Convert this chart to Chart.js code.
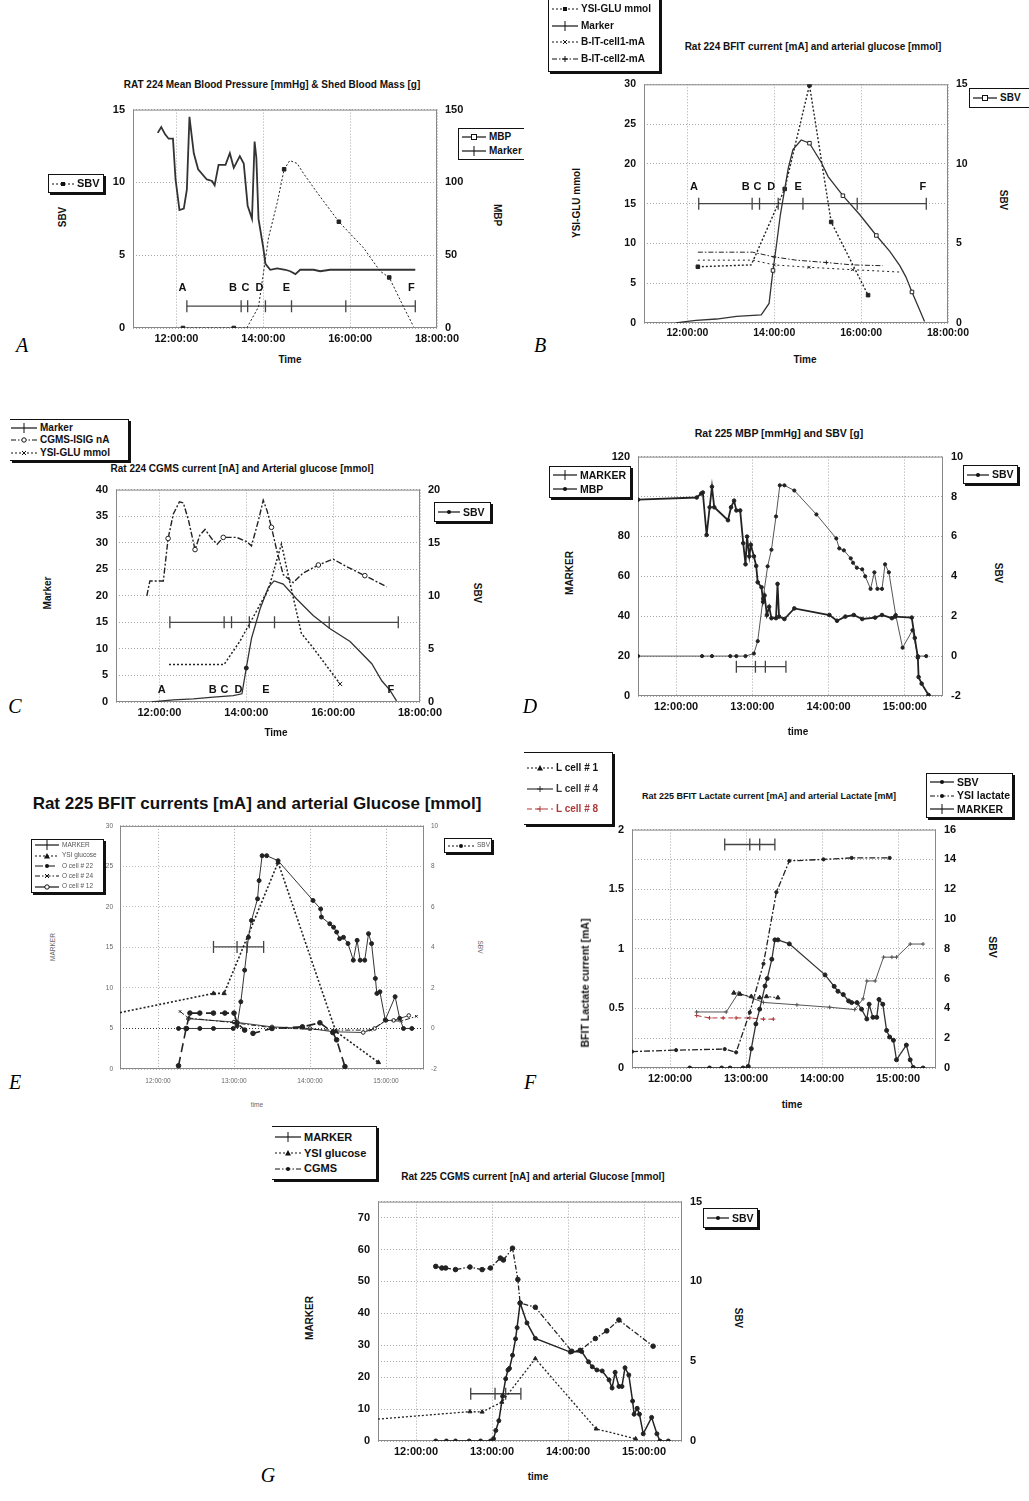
<!DOCTYPE html>
<html>
<head>
<meta charset="utf-8">
<script src="https://cdn.jsdelivr.net/npm/chart.js@4.4.1/dist/chart.umd.min.js"></script>
<style>
body { margin:0; width:1029px; height:1501px; background:#fff; position:relative; overflow:hidden; font-family:"Liberation Sans", Arial, sans-serif; }
.t { position:absolute; white-space:nowrap; color:#111; font-weight:bold; font-size:10px; line-height:1; }
.lg { position:absolute; background:#fff; border:1px solid #111; box-shadow:2px 2px 0 #111; overflow:hidden; display:flex; flex-direction:column; justify-content:space-evenly; padding-left:2px; box-sizing:border-box; font-weight:bold; color:#111; }
.lg div { display:flex; align-items:center; white-space:nowrap; line-height:1; }
.lg svg { margin-right:2px; flex:none; }
canvas { position:absolute; }
</style>
</head>
<body>
<script>
const FONT = '"Liberation Sans", Arial, sans-serif';

// ---------- A : Rat 224 MBP & shed blood ----------
let aMbpTime = [11.57,11.65,11.74,11.82,11.92,11.98,12.07,12.17,12.24,12.30,12.40,12.50,12.70,12.82,12.88,12.97,13.13,13.23,13.32,13.46,13.55,13.64,13.74,13.80,13.84,13.89,14.00,14.05,14.16,14.32,14.51,14.62,14.74,14.85,15.16,15.31,15.54,16.31,17.50];
let aMbp = [134,138,133,130,130,102,81,82,95,145,120,109,102,101,98,112,112,120,110,118,113,84,75,128,117,75,55,44,40,41,40,39,37,40,40,39,40,40,40];
let aSbvTime = [12.15,13.32,13.62,13.89,14.0,14.12,14.32,14.48,14.61,14.78,14.93,15.24,15.74,16.31,16.69,16.90,17.23,17.46];
let aSbv = [0,0,0,1.45,3.7,6.2,8.6,10.9,11.5,11.3,10.6,9.3,7.3,5.5,3.9,3.47,1.45,0.1];
let aMarkTime = [12.24,13.49,13.64,14.05,14.65,15.9,17.5];
let aLetters = ['A','B','C','D','E','F'];
let aLetterTime = [12.14,13.3,13.59,13.91,14.53,17.41];

// ---------- B : Rat 224 BFIT current ----------
let bSbvTime = [11.74,12.0,12.2,12.67,13.13,13.7,13.88,13.97,14.05,14.14,14.32,14.43,14.62,14.81,15.08,15.24,15.58,15.97,16.35,16.66,16.89,17.03,17.17,17.35,17.46];
let bSbv = [0,0.1,0.16,0.25,0.41,0.51,1.23,3.3,4.9,6.8,9.7,10.9,11.5,11.3,10.1,9.2,8.0,6.8,5.5,4.5,3.6,2.9,1.95,0.8,0.1];
let bYsiTime = [12.24,13.47,14.24,14.81,15.31,16.16];
let bYsi = [7.07,7.3,16.85,29.9,12.7,3.5];
let bCell1Time = [12.24,13.5,14.0,14.8,15.8,16.9];
let bCell1 = [7.9,7.9,7.3,7.0,6.7,6.4];
let bCell2Time = [12.24,13.5,14.0,14.5,15.2,15.8,16.5];
let bCell2 = [8.9,8.9,8.3,7.9,7.6,7.3,7.2];
let bMarkTime = [12.26,13.49,13.66,14.09,14.66,15.91,17.5];
let bLetterTime = [12.15,13.34,13.61,13.93,14.55,17.42];

// ---------- C : Rat 224 CGMS current ----------
let cCgmsTime = [11.71,11.78,12.09,12.2,12.32,12.46,12.55,12.67,12.82,12.93,13.05,13.2,13.33,13.47,13.78,14.01,14.12,14.28,14.39,14.48,14.58,14.7,14.85,15.08,15.31,15.66,16.0,16.31,16.73,17.23];
let cCgms = [20,22.8,22.8,30.8,35.4,37.7,37.5,34.2,28.7,31.4,32.5,30.8,29.7,31,31,30.2,29.4,34.2,38,36,32.9,28.6,24,22.5,24.3,25.8,26.9,25.5,23.8,21.7];
let cYsiTime = [12.22,13.49,13.85,14.16,14.51,14.81,14.97,15.27,15.54,15.85,16.16];
let cYsi = [7.08,7.08,11.4,16,21.2,29.8,23.7,12.9,10.2,6.8,3.4];
let cSbvTime = [11.82,12.32,12.78,13.24,13.7,13.9,14.0,14.12,14.32,14.51,14.64,14.85,15.16,15.54,15.93,16.39,16.89,17.12,17.31,17.46];
let cSbv = [0,0.2,0.3,0.46,0.6,0.77,3.2,6.0,8.8,10.8,11.4,11.1,9.7,8.15,6.9,5.7,3.6,2.0,1.1,0.1];
let cMarkTime = [12.24,13.49,13.66,14.07,14.65,15.91,17.5];
let cLetterTime = [12.05,13.23,13.5,13.82,14.45,17.33];

// ---------- D : Rat 225 MBP and SBV ----------
let dMbpTime = [11.5,12.27,12.33,12.35,12.4,12.44,12.47,12.5,12.68,12.72,12.76,12.79,12.84,12.88,12.91,12.93,12.96,12.98,13.02,13.05,13.07,13.12,13.14,13.16,13.19,13.22,13.25,13.31,13.33,13.35,13.42,13.55,14.01,14.11,14.22,14.33,14.44,14.61,14.7,14.83,14.87,15.09,15.13,15.17,15.18,15.22,15.31];
let dMbp = [98.4,99.5,101.5,102,80.7,94.6,104.9,94.6,88.1,94.6,97.9,93,93,76.6,66,79.9,70,75.8,70,65.2,57,54.5,47.2,50.4,40.6,44.7,39,39,56.2,39.8,38.6,43.9,40.6,37.7,39.8,40.6,38.6,39.3,40.6,39,39.8,39.3,29.1,19.3,9.5,6.2,0.5];
let dSbvTime = [11.5,12.34,12.47,12.71,12.79,12.91,13.02,13.07,13.14,13.2,13.25,13.31,13.36,13.42,13.55,13.84,14.1,14.14,14.2,14.29,14.32,14.37,14.44,14.48,14.55,14.6,14.64,14.7,14.74,14.79,14.88,14.97,15.1,15.17,15.28];
let dSbv = [0,0,0,0,0,0,0.13,0.75,2.88,4.5,5.33,7.0,8.56,8.56,8.3,7.1,5.9,5.4,5.3,4.9,4.68,4.43,4.35,4.0,3.37,4.2,3.37,3.37,4.6,4.2,2.06,0.42,1.3,0,0];
let dMarkTime = [12.79,13.04,13.17,13.44];

// ---------- E : Rat 225 BFIT glucose currents ----------
let eSbvTime = [12.27,12.38,12.55,12.73,12.99,13.04,13.09,13.14,13.19,13.23,13.31,13.33,13.37,13.43,13.58,14.04,14.14,14.15,14.26,14.31,14.35,14.39,14.44,14.5,14.57,14.62,14.66,14.72,14.77,14.81,14.86,14.88,14.92,14.99,15.12,15.18,15.23,15.34];
let eSbv = [0,0,0,0,0,0.13,1.32,2.88,4.5,5.33,6.4,7.3,8.53,8.53,8.28,6.32,5.9,5.5,5.17,5.0,4.76,4.43,4.5,4.19,3.37,4.35,3.37,3.37,4.68,4.19,2.47,1.73,1.81,0.42,1.57,0.5,0,0];
let eYsiTime = [11.5,12.73,12.87,13.58,14.34,14.9];
let eYsi = [6.96,9.33,9.33,25.5,4.63,0.82];
let eCell22Time = [12.27,12.37,12.42,12.55,12.73,12.88,13.0,13.04,13.14,13.25,13.5,13.9,14.13,14.3,14.35,14.46];
let eCell22 = [0.4,5.0,6.9,6.9,6.9,6.9,6.9,5.7,4.8,4.4,5.0,5.2,5.7,4.5,3.6,0.3];
let eCell24Time = [12.29,12.4,13.0,13.5,14.0,14.3,14.8,15.0,15.2,15.4];
let eCell24 = [7.1,6.3,5.7,5.1,4.9,4.8,4.8,6.0,5.9,6.5];
let eCell12Time = [12.4,13.0,13.5,14.0,14.3,14.7,14.85,15.0,15.1,15.3];
let eCell12 = [6.2,5.8,5.2,5.0,4.6,4.5,5.0,6.0,6.0,6.6];
let eMarkTime = [12.73,13.04,13.17,13.39];

// ---------- F : Rat 225 BFIT lactate ----------
let fSbvTime = [12.26,12.52,12.68,12.79,12.96,13.03,13.07,13.13,13.18,13.25,13.28,13.34,13.38,13.42,13.57,14.04,14.16,14.21,14.28,14.35,14.39,14.46,14.52,14.59,14.62,14.67,14.72,14.75,14.8,14.85,14.89,14.94,14.98,15.11,15.16,15.2,15.33];
let fSbv = [0,0,0,0,0,0.1,1.3,2.96,3.95,5.5,6.0,7.3,8.6,8.6,8.33,6.25,5.48,5.15,4.93,4.5,4.39,4.39,3.95,3.29,4.28,3.4,3.4,4.6,4.28,2.52,2.08,1.86,0.55,1.54,0.55,0.04,0];
let fLacTime = [11.5,12.08,12.72,12.87,13.05,13.23,13.4,13.57,14.02,14.39,14.89];
let fLac = [1.1,1.2,1.27,1.05,3.73,7.0,11.8,13.9,14.0,14.1,14.1];
let fCell1Time = [12.84,12.92,13.07,13.18,13.27,13.42];
let fCell1 = [0.63,0.62,0.6,0.59,0.6,0.59];
let fCell4Time = [12.35,12.74,12.9,13.23,13.67,14.1,14.43,14.54,14.59,14.7,14.81,14.92,14.98,15.16,15.33];
let fCell4 = [0.47,0.47,0.63,0.55,0.53,0.51,0.49,0.58,0.73,0.73,0.93,0.93,0.93,1.04,1.04];
let fCell8Time = [12.35,12.52,12.7,12.87,13.05,13.23,13.36];
let fCell8 = [0.44,0.42,0.42,0.42,0.42,0.41,0.41];
let fMarkTime = [12.72,13.05,13.18,13.38];

// ---------- G : Rat 225 CGMS ----------
let gCgmsTime = [12.26,12.34,12.39,12.52,12.71,12.87,12.98,13.11,13.15,13.27,13.34,13.37,13.57,14.05,14.16,14.36,14.51,14.67,15.12];
let gCgms = [54.7,54.2,54.2,53.7,54.5,53.7,54.2,57.3,56.7,60.4,50.6,43.2,41.9,28.1,28.4,32.1,34.5,37.9,29.7];
let gSbvTime = [12.26,12.4,12.52,12.7,12.85,12.98,13.02,13.05,13.09,13.14,13.18,13.21,13.23,13.27,13.31,13.33,13.37,13.46,13.57,14.03,14.18,14.27,14.32,14.38,14.45,14.54,14.58,14.62,14.67,14.71,14.75,14.8,14.85,14.87,14.91,14.94,14.99,15.1,15.17,15.21,15.32];
let gSbv = [0,0,0,0,0,0,0.14,0.66,1.27,2.8,3.9,4.45,4.55,5.37,6.4,7.1,8.65,7.4,6.43,5.57,5.6,4.96,4.65,4.45,4.39,3.83,3.32,4.3,3.42,3.42,4.59,4.14,2.5,1.68,2.05,1.68,0.45,1.48,0.45,0,0];
let gYsiTime = [11.5,12.71,12.87,13.13,13.57,14.37,14.89];
let gYsi = [6.86,9.2,9.1,12.2,25.8,3.8,0.7];
let gMarkTime = [12.72,13.04,13.18,13.38];

// ---------- helpers ----------
let pts = (xs, ys) => xs.map((x, i) => ({x: x, y: ys[i]}));
let level = (xs, v) => xs.map((x) => ({x: x, y: v}));
let hhmmss = (v) => String(Math.floor(v)).padStart(2, '0') + ':00:00';
let plainNum = (v) => String(+(+v).toFixed(2));
let fixTicks = (vals) => (axis) => { axis.ticks = vals.map((v) => ({value: v})); };
let range = (a, b, s) => { let r = []; for (let v = a; v <= b + 1e-9; v += s) r.push(+v.toFixed(3)); return r; };
let marked = (idxs, r) => (ctx) => idxs.includes(ctx.dataIndex) ? r : 0;

let series = (data, axis, o) => Object.assign({
      data: data, yAxisID: axis, borderColor: '#222', backgroundColor: '#222',
      pointBorderColor: '#222', pointBackgroundColor: '#222',
      borderWidth: 1, pointRadius: 0, pointBorderWidth: 1, tension: 0, fill: false
}, o);
let markerLine = (xs, v, axis, color) => series(level(xs, v), axis, {
      borderColor: color || '#444', pointBorderColor: color || '#444', borderWidth: 1.3,
      pointStyle: 'line', rotation: 90, pointRadius: 6, pointBorderWidth: 1.3
});

// frame around the plot area
const framePlugin = {
      id: 'frame',
      beforeDatasetsDraw(chart) {
            const {ctx, chartArea: a} = chart;
            ctx.save();
            ctx.strokeStyle = '#888';
            ctx.lineWidth = 1;
            ctx.strokeRect(a.left + 0.5, a.top + 0.5, a.width - 1, a.height - 1);
            ctx.restore();
      }
};
// A..F event letters above the marker line
const letterPlugin = {
      id: 'letters',
      afterDatasetsDraw(chart, args, opts) {
            if (!opts.labels) return;
            const {ctx, scales} = chart;
            ctx.save();
            ctx.font = 'bold 11px ' + FONT;
            ctx.fillStyle = '#111';
            ctx.textAlign = 'center';
            ctx.textBaseline = 'middle';
            opts.labels.forEach((s, i) => {
                  ctx.fillText(s, scales.x.getPixelForValue(opts.times[i]), scales[opts.axis].getPixelForValue(opts.level));
            });
            ctx.restore();
      }
};

let panel = (p) => {
      const padL = 46, padR = 46, padT = 10, padB = 26;
      const w = p.plot[2] - p.plot[0] + padL + padR;
      const h = p.plot[3] - p.plot[1] + padT + padB;
      const canvas = document.createElement('canvas');
      canvas.width = w;
      canvas.height = h;
      canvas.style.left = (p.plot[0] - padL) + 'px';
      canvas.style.top = (p.plot[1] - padT) + 'px';
      document.body.appendChild(canvas);
      const font = p.tickFont || {family: FONT, size: 11, weight: 'bold'};
      const color = p.tickColor || '#111';
      const gridOn = {color: '#a8a8a8', drawTicks: false};
      const gridOff = {display: false, drawTicks: false};
      const yAxis = (ticks, rng, pos, width, grid) => ({
            type: 'linear', position: pos, min: rng[0], max: rng[1],
            afterBuildTicks: fixTicks(ticks),
            afterFit: (s) => { s.width = width; },
            ticks: {font: font, color: color, padding: p.yPad || 8, autoSkip: false, callback: plainNum},
            grid: grid ? Object.assign({}, gridOn, grid) : gridOff,
            border: {display: false, dash: [1, 2]}
      });
      new Chart(canvas, {
            type: 'line',
            data: {datasets: p.datasets},
            options: {
                  responsive: false,
                  animation: false,
                  layout: {padding: {top: padT, left: 0, right: 0, bottom: 0}},
                  plugins: {legend: {display: false}, tooltip: {enabled: false}, letters: p.letters || {}},
                  scales: {
                        x: {
                              type: 'linear', min: p.x[0], max: p.x[1],
                              afterBuildTicks: fixTicks(p.xTicks),
                              afterFit: (s) => { s.height = padB; },
                              ticks: {font: p.xFont || font, color: color, padding: p.xPad || 4, callback: hhmmss, maxRotation: 0, autoSkip: false},
                              grid: gridOn,
                              border: {display: false, dash: [1, 2]}
                        },
                        y: yAxis(p.yTicks, p.y, 'left', padL, p.yGrid),
                        y2: yAxis(p.y2Ticks, p.y2, 'right', padR, p.y2Grid)
                  }
            },
            plugins: [framePlugin, letterPlugin]
      });
};

let txt = (s, x, y, css) => {
      const el = document.createElement('div');
      el.className = 't';
      el.textContent = s;
      el.style.cssText = `left:${x}px;top:${y}px;transform:translate(-50%,-50%)${css && css.rot ? ' rotate(' + css.rot + 'deg)' : ''};${css && css.style ? css.style : ''}`;
      document.body.appendChild(el);
};

let sample = (it, sw) => {
      const c = it.color || '#111';
      const m0 = sw / 2;
      let m = '';
      switch (it.mark) {
            case 'sq': m = `<rect x="${m0 - 2}" y="3" width="4" height="4" fill="${c}"/>`; break;
            case 'osq': m = `<rect x="${m0 - 2.5}" y="2.5" width="5" height="5" fill="#fff" stroke="${c}"/>`; break;
            case 'dot': m = `<circle cx="${m0}" cy="5" r="2" fill="${c}"/>`; break;
            case 'ocirc': m = `<circle cx="${m0}" cy="5" r="2.2" fill="#fff" stroke="${c}"/>`; break;
            case 'tri': m = `<path d="M${m0} 2 L${m0 + 3} 7.5 L${m0 - 3} 7.5Z" fill="${c}"/>`; break;
            case 'x': m = `<path d="M${m0 - 2} 3 L${m0 + 2} 7 M${m0 + 2} 3 L${m0 - 2} 7" stroke="${c}"/>`; break;
            case 'plus': m = `<path d="M${m0} 2 V8 M${m0 - 3} 5 H${m0 + 3}" stroke="${c}"/>`; break;
            case 'tick': m = `<path d="M${m0} 0 V10" stroke="${c}"/>`; break;
      }
      return `<svg width="${sw}" height="10"><line x1="1" y1="5" x2="${sw - 1}" y2="5" stroke="${c}" stroke-width="1.2" stroke-dasharray="${it.dash || ''}"/>${m}</svg>`;
};

let legendBox = (x, y, w, h, items, css, sw) => {
      const box = document.createElement('div');
      box.className = 'lg';
      box.style.cssText = `left:${x}px;top:${y}px;width:${w}px;height:${h}px;${css || ''}`;
      box.innerHTML = items.map((it) => `<div style="${it.color ? 'color:' + it.color : ''}">${sample(it, sw || 28)}<span>${it.label}</span></div>`).join('');
      document.body.appendChild(box);
};

const DOT = '2,2', DASHDOT = '5,2,1.5,2', LONG = '8,4';
const hourTicks = [12, 14, 16, 18];
const halfTicks = [12, 13, 14, 15];

// ---------- panel A ----------
panel({
      plot: [133, 105, 437, 328], x: [11, 18], xTicks: hourTicks,
      y: [0, 15], yTicks: range(0, 15, 5), yGrid: {},
      y2: [0, 150], y2Ticks: range(0, 150, 50),
      datasets: [
            series(pts(aMbpTime, aMbp), 'y2', {borderWidth: 1.8, borderColor: '#333'}),
            series(pts(aSbvTime, aSbv), 'y', {borderDash: [2, 2], pointStyle: 'rect', pointRadius: marked([0, 1, 7, 12, 15], 2.5)}),
            markerLine(aMarkTime, 1.5, 'y')
      ],
      letters: {labels: aLetters, times: aLetterTime, level: 2.73, axis: 'y'}
});
txt('RAT 224 Mean Blood Pressure [mmHg] & Shed Blood Mass [g]', 272, 85);
txt('SBV', 63, 217, {rot: -90});
txt('MBP', 497, 215, {rot: 90});
txt('Time', 290, 360);
legendBox(48, 174, 56, 19, [{label: 'SBV', dash: DOT, mark: 'sq'}], 'font-size:11px;', 24);
legendBox(458, 128, 66, 32, [{label: 'MBP', mark: 'osq'}, {label: 'Marker', mark: 'tick'}], 'font-size:10px;border-right:none;box-shadow:none;', 26);

// ---------- panel B ----------
panel({
      plot: [644, 80, 948, 323], x: [11, 18], xTicks: hourTicks,
      y: [0, 30], yTicks: range(0, 30, 5), yGrid: {},
      y2: [0, 15], y2Ticks: range(0, 15, 5),
      tickFont: {family: FONT, size: 10.5, weight: 'bold'},
      datasets: [
            series(pts(bSbvTime, bSbv), 'y2', {borderWidth: 1.3, borderColor: '#333', pointStyle: 'rect', pointBackgroundColor: '#fff', pointRadius: marked([7, 13, 16, 18, 22], 2.5)}),
            series(pts(bYsiTime, bYsi), 'y', {borderDash: [2, 2], borderWidth: 1.4, pointStyle: 'rect', pointRadius: marked([0, 2, 3, 4, 5], 2.5)}),
            series(pts(bCell1Time, bCell1), 'y', {borderDash: [2, 3], pointStyle: 'crossRot', pointRadius: marked([2, 3, 4], 2)}),
            series(pts(bCell2Time, bCell2), 'y', {borderDash: [5, 2, 1.5, 2], pointStyle: 'cross', pointRadius: marked([2, 4], 2)}),
            markerLine(bMarkTime, 15, 'y')
      ],
      letters: {labels: aLetters, times: bLetterTime, level: 17.1, axis: 'y'}
});
txt('Rat 224 BFIT current [mA] and arterial glucose [mmol]', 813, 47);
txt('YSI-GLU mmol', 577, 203, {rot: -90});
txt('SBV', 1003, 200, {rot: 90});
txt('Time', 805, 360);
legendBox(548, -4, 112, 76, [
      {label: 'YSI-GLU mmol', dash: DOT, mark: 'sq'},
      {label: 'Marker', mark: 'tick'},
      {label: 'B-IT-cell1-mA', dash: DOT, mark: 'x'},
      {label: 'B-IT-cell2-mA', dash: DASHDOT, mark: 'plus'}
], 'font-size:10px;');
legendBox(969, 88, 60, 20, [{label: 'SBV', mark: 'osq'}], 'font-size:10px;border-right:none;box-shadow:none;', 26);

// ---------- panel C ----------
panel({
      plot: [116, 485, 420, 702], x: [11, 18], xTicks: hourTicks,
      y: [0, 40], yTicks: range(0, 40, 5), yGrid: {},
      y2: [0, 20], y2Ticks: range(0, 20, 5),
      datasets: [
            series(pts(cCgmsTime, cCgms), 'y', {borderDash: [6, 2, 2, 2], borderWidth: 1.4, pointBackgroundColor: '#fff', pointRadius: marked([3, 8, 13, 20, 25, 28], 2.3)}),
            series(pts(cYsiTime, cYsi), 'y', {borderDash: [2, 2], borderWidth: 1.5, pointStyle: 'crossRot', pointRadius: marked([10], 3)}),
            series(pts(cSbvTime, cSbv), 'y2', {borderWidth: 1.3, borderColor: '#333', pointRadius: marked([6], 2)}),
            markerLine(cMarkTime, 15, 'y')
      ],
      letters: {labels: aLetters, times: cLetterTime, level: 2.3, axis: 'y'}
});
txt('Rat 224 CGMS current [nA] and Arterial glucose [mmol]', 242, 469);
txt('Marker', 48, 593, {rot: -90});
txt('SBV', 477, 593, {rot: 90});
txt('Time', 276, 733);
legendBox(10, 419, 119, 42, [
      {label: 'Marker', mark: 'tick'},
      {label: 'CGMS-ISIG nA', dash: DASHDOT, mark: 'ocirc'},
      {label: 'YSI-GLU mmol', dash: DOT, mark: 'x'}
], 'font-size:10px;border-left:none;padding-left:0;');
legendBox(434, 502, 57, 20, [{label: 'SBV', mark: 'dot'}], 'font-size:10.5px;', 24);

// ---------- panel D ----------
panel({
      plot: [638, 452, 943, 696], x: [11.5, 15.5], xTicks: halfTicks,
      y: [0, 120], yTicks: range(0, 120, 20), yGrid: {},
      y2: [-2, 10], y2Ticks: range(-2, 10, 2),
      datasets: [
            series(pts(dMbpTime, dMbp), 'y', {borderWidth: 1.8, borderColor: '#222', pointRadius: 1.8}),
            series(pts(dSbvTime, dSbv), 'y2', {borderWidth: 1, borderColor: '#555', pointRadius: 1.6}),
            markerLine(dMarkTime, 14.7, 'y')
      ]
});
txt('Rat 225 MBP [mmHg] and SBV [g]', 779, 433, {style: 'font-size:10.5px'});
txt('MARKER', 570, 573, {rot: -90});
txt('SBV', 998, 573, {rot: 90});
txt('time', 798, 732);
legendBox(549, 466, 82, 32, [{label: 'MARKER', mark: 'tick'}, {label: 'MBP', mark: 'dot'}], 'font-size:10.5px;', 26);
legendBox(963, 465, 55, 19, [{label: 'SBV', mark: 'dot'}], 'font-size:10.5px;', 24);

// ---------- panel E ----------
panel({
      plot: [120, 825, 424, 1069], x: [11.5, 15.5], xTicks: halfTicks,
      y: [0, 30], yTicks: range(0, 30, 5), yGrid: {color: '#bbb'},
      y2: [-2, 10], y2Ticks: range(-2, 10, 2),
      y2Grid: {color: (ctx) => ctx.tick && ctx.tick.value === 0 ? '#333' : 'rgba(0,0,0,0)'},
      tickFont: {family: FONT, size: 6.5, weight: 'normal'}, tickColor: '#666', yPad: 7, xPad: 8,
      datasets: [
            series(pts(eSbvTime, eSbv), 'y2', {borderWidth: 1, borderColor: '#333', pointRadius: 2}),
            series(pts(eYsiTime, eYsi), 'y', {borderDash: [2, 2], borderWidth: 1.6, pointStyle: 'triangle', pointRadius: marked([1, 2, 3, 4, 5], 2.5)}),
            series(pts(eCell22Time, eCell22), 'y', {borderDash: [9, 5], borderWidth: 1.6, pointRadius: 2.3}),
            series(pts(eCell24Time, eCell24), 'y', {borderDash: [5, 2, 1.5, 2], pointStyle: 'crossRot', pointRadius: 1.8}),
            series(pts(eCell12Time, eCell12), 'y', {borderColor: '#444', pointBackgroundColor: '#fff', pointRadius: 1.8}),
            markerLine(eMarkTime, 15.06, 'y')
      ]
});
txt('Rat 225 BFIT currents [mA] and arterial Glucose [mmol]', 257, 803, {style: 'font-size:17px'});
txt('MARKER', 53, 947, {rot: -90, style: 'font-size:6.5px;font-weight:normal;color:#666'});
txt('SBV', 480, 947, {rot: 90, style: 'font-size:6.5px;font-weight:normal;color:#666'});
txt('time', 257, 1105, {style: 'font-size:6.5px;font-weight:normal;color:#666'});
legendBox(31, 839, 73, 54, [
      {label: 'MARKER', mark: 'tick'},
      {label: 'YSI glucose', dash: DOT, mark: 'tri'},
      {label: 'O cell # 22', dash: LONG, mark: 'dot'},
      {label: 'O cell # 24', dash: DASHDOT, mark: 'x'},
      {label: 'O cell # 12', mark: 'ocirc'}
], 'font-size:6.5px;font-weight:normal;color:#555;', 26);
legendBox(444, 838, 48, 15, [{label: 'SBV', dash: DOT, mark: 'dot'}], 'font-size:6.5px;font-weight:normal;color:#555;', 28);

// ---------- panel F ----------
panel({
      plot: [632, 825, 936, 1068], x: [11.5, 15.5], xTicks: halfTicks,
      y: [0, 2], yTicks: range(0, 2, 0.5),
      y2: [0, 16], y2Ticks: range(0, 16, 2), y2Grid: {},
      datasets: [
            series(pts(fSbvTime, fSbv), 'y2', {borderWidth: 1.3, borderColor: '#333', pointRadius: 2}),
            series(pts(fLacTime, fLac), 'y2', {borderDash: [6, 2, 2, 2], borderWidth: 1.3, pointRadius: 1.6}),
            series(pts(fCell1Time, fCell1), 'y', {borderDash: [2, 2], pointStyle: 'triangle', pointRadius: 2.5}),
            series(pts(fCell4Time, fCell4), 'y', {borderColor: '#555', pointBorderColor: '#555', pointStyle: 'cross', pointRadius: 2}),
            series(pts(fCell8Time, fCell8), 'y', {borderColor: '#b03838', pointBorderColor: '#b03838', borderDash: [5, 3], pointStyle: 'cross', pointRadius: 2}),
            markerLine(fMarkTime, 15, 'y2')
      ]
});
txt('Rat 225 BFIT Lactate current [mA] and arterial Lactate [mM]', 769, 796, {style: 'font-size:9px'});
txt('BFIT Lactate current [mA]', 585, 983, {rot: -90, style: 'font-size:10.5px'});
txt('SBV', 993, 947, {rot: 90, style: 'font-size:10.5px'});
txt('time', 792, 1105);
legendBox(524, 752, 89, 73, [
      {label: 'L cell # 1', dash: DOT, mark: 'tri'},
      {label: 'L cell # 4', mark: 'plus', color: '#333'},
      {label: 'L cell # 8', dash: '5,3', mark: 'plus', color: '#b03838'}
], 'font-size:10px;border-left:none;');
legendBox(926, 773, 87, 45, [
      {label: 'SBV', mark: 'dot'},
      {label: 'YSI lactate', dash: DASHDOT, mark: 'dot'},
      {label: 'MARKER', mark: 'tick'}
], 'font-size:10.5px;', 26);

// ---------- panel G ----------
panel({
      plot: [378, 1197, 682, 1441], x: [11.5, 15.5], xTicks: halfTicks,
      y: [0, 75], yTicks: range(0, 70, 10), yGrid: {},
      y2: [0, 15], y2Ticks: range(0, 15, 5), y2Grid: {},
      datasets: [
            series(pts(gCgmsTime, gCgms), 'y', {borderDash: [5, 2, 1.5, 2], borderWidth: 1.3, pointRadius: 2.3}),
            series(pts(gSbvTime, gSbv), 'y2', {borderWidth: 1.5, borderColor: '#222', pointRadius: 2}),
            series(pts(gYsiTime, gYsi), 'y', {borderDash: [2, 2], borderWidth: 1.3, pointStyle: 'triangle', pointRadius: marked([1, 2, 3, 4, 5, 6], 2.3)}),
            markerLine(gMarkTime, 14.8, 'y')
      ]
});
txt('Rat 225 CGMS current [nA] and arterial Glucose [mmol]', 533, 1177);
txt('MARKER', 310, 1318, {rot: -90});
txt('SBV', 738, 1318, {rot: 90});
txt('time', 538, 1477);
legendBox(272, 1126, 105, 54, [
      {label: 'MARKER', mark: 'tick'},
      {label: 'YSI glucose', dash: DOT, mark: 'tri'},
      {label: 'CGMS', dash: DASHDOT, mark: 'dot'}
], 'font-size:11px;border-left:none;');
legendBox(703, 1208, 55, 20, [{label: 'SBV', mark: 'dot'}], 'font-size:10.5px;', 24);

// panel letters
[['A', 22, 345], ['B', 540, 345], ['C', 15, 706], ['D', 530, 706], ['E', 15, 1082], ['F', 530, 1082], ['G', 268, 1475]].forEach((l) => {
      txt(l[0], l[1], l[2], {style: 'font:italic 20px "Liberation Serif", serif;color:#000'});
});
</script>
</body>
</html>
